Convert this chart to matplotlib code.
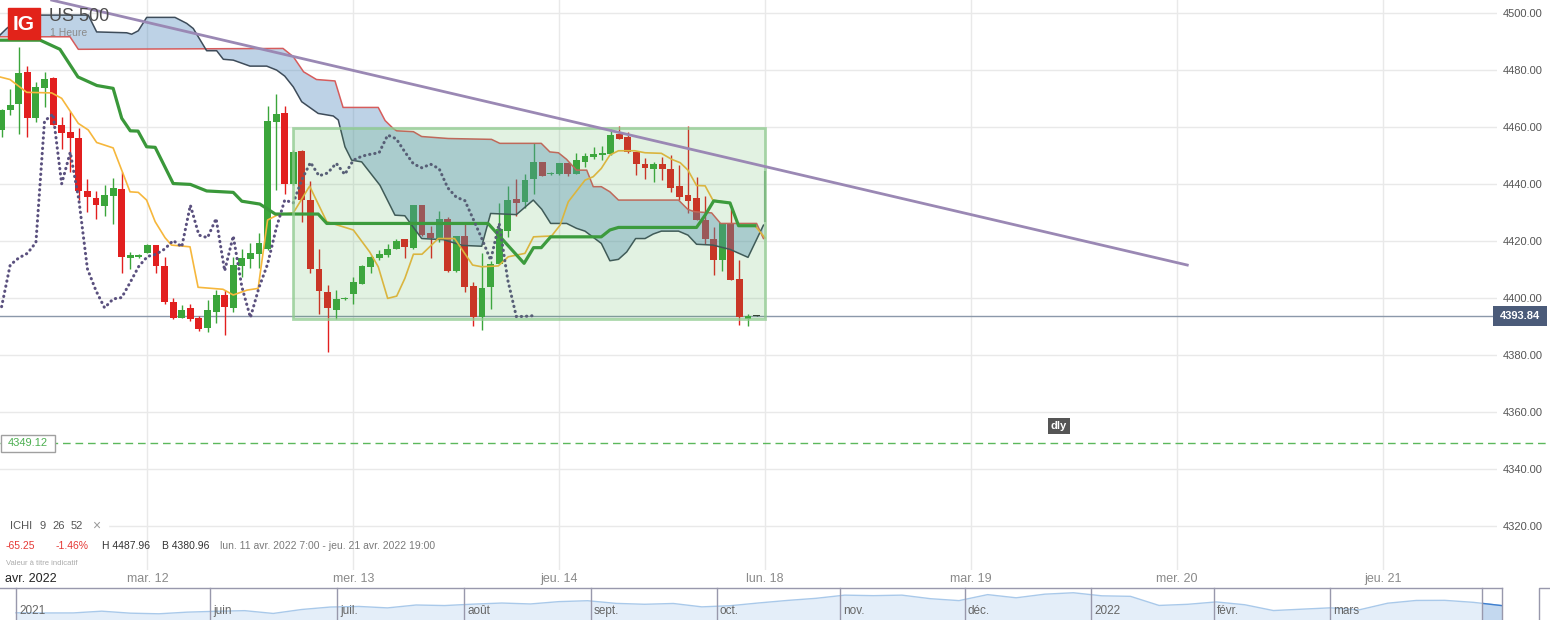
import numpy as np
import matplotlib
matplotlib.use("Agg")
import matplotlib.pyplot as plt
from matplotlib.patches import Rectangle
from matplotlib.transforms import blended_transform_factory

plt.rcParams['font.family'] = ['Liberation Sans', 'DejaVu Sans']

# ==== DATA : US 500, bougies 1 heure depuis lun. 11 avr. 2022 7:00 ====
opens = [4459.09, 4466.0, 4468.1, 4479.3, 4463.3, 4473.8, 4477.2, 4460.7, 4458.2, 4456.1,
         4437.5, 4435.3, 4432.4, 4435.9, 4438.2, 4414.2, 4414.5, 4415.9, 4418.6, 4411.2,
         4398.6, 4393.1, 4396.6, 4392.9, 4389.4, 4395.2, 4401.1, 4396.7, 4411.3, 4413.7,
         4415.4, 4417.4, 4461.9, 4464.9, 4440.1, 4451.6, 4434.4, 4410.2, 4402.1, 4396.0,
         4399.8, 4401.5, 4405.1, 4410.8, 4414.1, 4415.1, 4417.4, 4420.6, 4417.7, 4432.6,
         4422.7, 4420.9, 4427.6, 4409.6, 4421.8, 4404.2, 4393.5, 4404.0, 4411.9, 4423.6,
         4434.7, 4433.8, 4441.8, 4447.6, 4443.4, 4443.4, 4447.3, 4443.7, 4447.8, 4449.6,
         4450.3, 4450.4, 4457.5, 4456.4, 4451.3, 4447.2, 4445.4, 4447.2, 4445.3, 4439.3,
         4436.1, 4435.1, 4427.4, 4420.7, 4413.3, 4426.2, 4406.7, 4392.7, 4393.84]
highs = [4466.3, 4473.3, 4487.96, 4481.4, 4475.8, 4479.3, 4477.6, 4463.5, 4465.7, 4459.7,
         4441.7, 4437.5, 4439.7, 4442.1, 4444.2, 4416.1, 4415.4, 4419.0, 4418.7, 4414.4,
         4400.1, 4397.5, 4397.9, 4393.7, 4399.3, 4403.0, 4402.8, 4414.5, 4417.4, 4419.2,
         4422.9, 4467.4, 4471.6, 4467.4, 4451.8, 4451.9, 4441.1, 4417.4, 4404.6, 4402.8,
         4400.3, 4407.5, 4411.5, 4414.7, 4416.9, 4419.0, 4420.6, 4420.7, 4432.7, 4432.7,
         4425.3, 4430.5, 4428.3, 4421.9, 4426.5, 4405.7, 4415.7, 4413.0, 4433.2, 4439.3,
         4441.8, 4443.5, 4454.3, 4447.7, 4444.2, 4447.5, 4447.5, 4451.0, 4450.8, 4452.9,
         4453.3, 4459.2, 4460.3, 4458.2, 4451.4, 4449.0, 4447.6, 4449.4, 4450.1, 4446.7,
         4460.3, 4442.5, 4435.8, 4424.8, 4426.3, 4431.2, 4413.3, 4394.4, 4393.9]
lows = [4456.4, 4464.2, 4457.5, 4456.6, 4461.9, 4467.1, 4460.6, 4452.4, 4444.3, 4434.4,
        4430.3, 4427.7, 4428.9, 4426.1, 4408.9, 4410.2, 4414.2, 4415.7, 4408.9, 4397.9,
        4392.5, 4392.9, 4391.9, 4388.5, 4388.2, 4391.3, 4387.0, 4395.2, 4407.3, 4410.4,
        4410.4, 4416.8, 4437.9, 4436.6, 4439.8, 4426.8, 4408.7, 4394.6, 4380.96, 4392.5,
        4399.3, 4398.1, 4405.0, 4408.9, 4413.3, 4414.5, 4417.1, 4414.1, 4417.4, 4421.7,
        4414.1, 4419.8, 4409.2, 4409.0, 4402.2, 4390.3, 4388.8, 4396.1, 4411.8, 4421.5,
        4428.8, 4431.5, 4436.7, 4442.9, 4443.1, 4443.2, 4443.0, 4443.5, 4446.1, 4448.8,
        4448.4, 4450.1, 4455.9, 4451.0, 4443.2, 4441.8, 4440.8, 4441.4, 4437.3, 4434.6,
        4430.0, 4427.3, 4419.0, 4408.1, 4409.5, 4406.2, 4390.5, 4390.3, 4393.8]
closes = [4466.0, 4467.7, 4479.1, 4463.3, 4474.0, 4476.9, 4460.8, 4458.0, 4456.2, 4437.7,
          4435.6, 4432.7, 4436.1, 4438.6, 4414.5, 4415.1, 4415.1, 4418.6, 4411.2, 4398.7,
          4393.1, 4396.0, 4392.5, 4389.0, 4395.8, 4401.1, 4397.0, 4411.6, 4414.1, 4415.7,
          4419.5, 4462.1, 4464.6, 4440.1, 4451.2, 4434.6, 4410.3, 4402.6, 4396.6, 4399.7,
          4400.2, 4405.6, 4411.2, 4414.6, 4415.4, 4417.2, 4420.2, 4418.0, 4432.6, 4422.1,
          4421.2, 4427.9, 4409.6, 4421.8, 4404.0, 4393.2, 4403.7, 4411.9, 4424.4, 4434.4,
          4433.4, 4441.6, 4447.6, 4442.9, 4443.9, 4447.3, 4443.4, 4448.4, 4449.8, 4450.5,
          4451.0, 4457.2, 4455.9, 4451.3, 4447.1, 4445.7, 4447.0, 4445.4, 4438.7, 4435.4,
          4434.2, 4427.5, 4420.7, 4413.3, 4426.2, 4406.3, 4393.5, 4393.6, 4393.84]

# ichimoku lines, read as (bar index, price) vertices
tenkan = [(-0.19, 4477.6), (0.98, 4476.7), (2.93, 4472.2), (5.84, 4472.0), (7.0, 4470.1),
          (8.94, 4461.3), (10.1, 4459.0), (11.08, 4454.6), (13.0, 4452.7), (14.97, 4437.3),
          (15.93, 4437.1), (16.9, 4434.4), (17.9, 4426.8), (19.05, 4421.2), (19.8, 4418.6),
          (21.96, 4418.0), (22.9, 4403.8), (25.8, 4403.1), (27.0, 4401.1), (28.6, 4402.8),
          (29.9, 4403.4), (31.0, 4427.4), (32.1, 4429.1), (34.0, 4429.9), (35.9, 4439.3),
          (37.9, 4426.8), (41.0, 4423.9), (42.9, 4416.2), (43.9, 4411.0), (45.0, 4399.9),
          (46.05, 4400.7), (47.0, 4406.9), (48.0, 4415.4), (49.0, 4415.4), (50.9, 4420.9),
          (52.8, 4420.9), (54.9, 4411.6), (55.95, 4411.0), (57.9, 4411.3), (59.05, 4414.5),
          (61.0, 4415.7), (62.0, 4421.5), (64.1, 4421.8), (65.1, 4425.6), (66.05, 4433.8),
          (68.0, 4441.4), (68.96, 4442.6), (69.9, 4445.5), (70.9, 4450.2), (71.9, 4451.7),
          (73.8, 4451.7), (75.0, 4451.0), (76.9, 4450.8), (78.1, 4448.7), (79.1, 4447.5),
          (80.0, 4444.9), (81.0, 4439.5), (82.0, 4439.4), (82.9, 4434.4), (84.9, 4433.4),
          (85.9, 4425.4), (87.8, 4425.4), (89.0, 4421.1)]
kijun = [(-0.2, 4490.5), (4.5, 4490.5), (6.8, 4487.3), (8.9, 4477.6), (11.1, 4474.6),
         (13.0, 4473.6), (14.0, 4463.1), (15.0, 4458.7), (15.9, 4458.6), (16.9, 4453.1),
         (17.9, 4452.9), (20.0, 4440.2), (22.0, 4439.9), (23.9, 4437.6), (27.0, 4437.1),
         (28.0, 4434.0), (30.1, 4433.0), (31.9, 4429.5), (36.9, 4429.5), (37.9, 4426.2),
         (56.7, 4426.2), (60.9, 4412.2), (62.0, 4417.7), (62.9, 4417.7), (64.0, 4421.5),
         (69.9, 4421.5), (70.9, 4423.9), (71.9, 4424.8), (81.0, 4424.8), (82.0, 4429.1),
         (83.0, 4434.1), (84.9, 4433.4), (85.9, 4425.4), (87.8, 4425.4)]
senkou_a = [(-0.19, 4491.7), (7.97, 4491.7), (8.94, 4487.3), (32.8, 4487.6), (34.0, 4484.7),
            (35.2, 4479.4), (36.7, 4476.7), (38.86, 4476.2), (39.8, 4466.9), (43.9, 4466.9),
            (44.7, 4462.3), (45.65, 4459.5), (46.05, 4458.7), (48.0, 4458.4), (48.96, 4456.7),
            (52.06, 4456.0), (57.1, 4455.7), (58.07, 4454.3), (62.9, 4454.3), (63.9, 4451.3),
            (64.9, 4451.0), (65.85, 4448.7), (67.0, 4444.9), (68.2, 4444.9), (68.96, 4439.1),
            (69.9, 4439.1), (70.9, 4437.3), (71.9, 4434.4), (78.9, 4434.4), (80.0, 4431.1),
            (80.8, 4430.3), (82.76, 4429.9), (83.8, 4426.2), (88.0, 4426.2), (88.8, 4420.9)]
senkou_b = [(-0.19, 4492.3), (0.59, 4494.6), (1.36, 4496.4), (2.14, 4497.9), (4.48, 4499.3),
            (10.1, 4499.3), (11.08, 4493.4), (14.58, 4493.1), (15.16, 4492.6), (15.93, 4493.8),
            (16.91, 4498.5), (20.21, 4498.5), (21.57, 4496.4), (22.34, 4494.6), (23.9, 4486.8),
            (25.07, 4486.8), (25.84, 4483.8), (27.0, 4483.5), (28.95, 4481.4), (30.9, 4481.4),
            (32.06, 4480.0), (33.0, 4477.9), (34.0, 4474.1), (34.98, 4468.9), (36.9, 4464.8),
            (38.66, 4463.9), (39.24, 4462.5), (40.02, 4453.1), (40.8, 4448.4), (41.97, 4447.8),
            (44.1, 4439.6), (45.85, 4429.1), (47.0, 4428.9), (48.96, 4420.9), (51.5, 4420.5),
            (53.7, 4418.5), (55.96, 4418.2), (57.0, 4429.7), (60.0, 4429.3), (61.97, 4434.4),
            (62.95, 4431.2), (64.0, 4426.2), (65.86, 4426.2), (67.0, 4424.5), (68.0, 4423.5),
            (69.9, 4419.2), (70.9, 4413.1), (71.9, 4413.6), (72.86, 4416.2), (73.9, 4420.9),
            (75.0, 4420.9), (75.96, 4422.5), (76.9, 4423.5), (78.9, 4423.5), (80.0, 4422.1),
            (81.0, 4418.9), (82.9, 4418.6), (84.9, 4417.1), (87.0, 4414.3), (88.8, 4425.6)]
chikou_shift = 26
last_tick = (89, 4426.6, 4444.6)

trend_line = [(5.84, 4504.56), (138.2, 4411.6)]
box_zone = (34.0, 89.0, 4392.6, 4459.8)      # x0, x1, bas, haut
level_dly = 4349.12
last_price = 4393.84

day_pos = [17, 41, 65, 89, 113, 137, 161]
day_labels = ['mar. 12', 'mer. 13', 'jeu. 14', 'lun. 18', 'mar. 19', 'mer. 20', 'jeu. 21']
y_ticks = list(range(4320, 4501, 20))

# navigateur (avr. 2021 -> avr. 2022)
nav_vals = [4185, 4180, 4181, 4232, 4174, 4156, 4204, 4229, 4247, 4166, 4281, 4352, 4369,
            4327, 4411, 4395, 4436, 4468, 4441, 4509, 4535, 4458, 4432, 4455, 4357, 4391,
            4471, 4544, 4605, 4697, 4682, 4697, 4594, 4538, 4712, 4620, 4725, 4766, 4677,
            4662, 4398, 4431, 4500, 4418, 4250, 4290, 4329, 4270, 4463, 4543, 4546, 4488, 4393]
nav_months = ['2021', 'juin', 'juil.', 'août', 'sept.', 'oct.', 'nov.', 'déc.', '2022', 'févr.', 'mars']
nav_month_px = [16, 210, 337, 464, 591, 717, 840, 965, 1091, 1214, 1330]

# ==== COLOURS ====
UP, DOWN, FLAT = '#3ba53b', '#e21f1f', '#333333'
GRID = '#e9e9e9'

# ==== FIGURE ====
W, H = 1550, 620
fig = plt.figure(figsize=(W / 100, H / 100), dpi=100, facecolor='white')
ax = fig.add_axes([0, 50 / H, 1497 / W, 570 / H])
ax.set_xlim(-0.187, 174.3)
ax.set_ylim(4304.6, 4504.6)
for s in ax.spines.values():
    s.set_visible(False)
ax.grid(True, color=GRID, lw=1)
ax.set_axisbelow(True)

ax.yaxis.tick_right()
ax.set_yticks(y_ticks)
ax.set_yticklabels([f'{v:.2f}' for v in y_ticks])
ax.tick_params(axis='y', length=0, pad=3.8, labelsize=8, labelcolor='#555555')
ax.set_xticks(day_pos)
ax.set_xticklabels(day_labels)
ax.tick_params(axis='x', length=0, pad=2, labelsize=9, labelcolor='#8a8a8a')

trans = blended_transform_factory(ax.transAxes, ax.transData)

# price line + dly level
ax.plot([0, 0.9973], [last_price, last_price], transform=trans, color='#8b98aa', lw=1, zorder=1.5)
ax.plot([0, 1.04], [level_dly, level_dly], transform=trans, color='#5cb85c', lw=1,
        dashes=(5.5, 3.5), clip_on=False, zorder=1.5)

# candles
o, h, l, c = map(np.array, (opens, highs, lows, closes))
idx = np.arange(len(c))
col = np.where(c > o, UP, np.where(c < o, DOWN, FLAT))
ax.vlines(idx, l, h, colors=col, lw=1, zorder=2)
ax.bar(idx, np.maximum(np.abs(c - o), 0.35), bottom=np.minimum(o, c), width=0.8,
       color=col, lw=0, zorder=2)
ax.vlines(last_tick[0], last_tick[1], last_tick[2], color='#5d8f6a', lw=1.5, zorder=2)

# kumo
sa = np.array(senkou_a)
sb = np.array(senkou_b)
ax.fill(np.concatenate([sa[:, 0], sb[::-1, 0]]), np.concatenate([sa[:, 1], sb[::-1, 1]]),
        color='#528bbe', alpha=0.38, lw=0, zorder=3)
ax.plot(sa[:, 0], sa[:, 1], color='#d65c5c', lw=1.1, zorder=3.5)
ax.plot(sb[:, 0], sb[:, 1], color='#3e4c5a', lw=1.1, zorder=3.5)

tk = np.array(tenkan)
kj = np.array(kijun)
ax.plot(tk[:, 0], tk[:, 1], color='#f6b73c', lw=1.2, zorder=4)
ax.plot(kj[:, 0], kj[:, 1], color='#3a983a', lw=2.3, zorder=4)
ax.plot(idx[chikou_shift:] - chikou_shift, c[chikou_shift:], color='#5a507e', lw=2.2,
        linestyle=(0, (0.1, 1.6)), dash_capstyle='round', zorder=4)

# zone rectangle
x0, x1, yb, yt = box_zone
ax.add_patch(Rectangle((x0, yb), x1 - x0, yt - yb, fc='#4caf50', alpha=0.16, lw=0, zorder=5))
ax.add_patch(Rectangle((x0, yb), x1 - x0, yt - yb, fill=False, ec='#8fcb8f', lw=2,
                       alpha=0.75, zorder=5))

# trend line
tl = np.array(trend_line)
ax.plot(tl[:, 0], tl[:, 1], color='#9a88b4', lw=2, zorder=6)

# price tags
ax.add_patch(Rectangle((0.99733, last_price - 3.5), 0.0361, 7.0, transform=trans,
                       fc='#4b5b79', ec='none', clip_on=False, zorder=9))
ax.text(1.0153, last_price, f'{last_price:.2f}', transform=trans, ha='center', va='center',
        color='white', fontweight='bold', fontsize=8, clip_on=False, zorder=10)
ax.add_patch(Rectangle((0.0004, level_dly - 3.0), 0.0364, 6.0, transform=trans,
                       fc='white', ec='#a0a0a0', lw=1, clip_on=False, zorder=9))
ax.text(0.0184, level_dly, f'{level_dly:.2f}', transform=trans, ha='center', va='center',
        color='#4caf50', fontsize=8, clip_on=False, zorder=10)

# ==== NAVIGATOR (series) ====
nav = fig.add_axes([0, 0, 1, 32 / H])
nav.set_zorder(2)
nav.set_xlim(0, W)
nav.set_ylim(3976, 4904)
nav.axis('off')
nx = np.linspace(16, 1502, len(nav_vals))
nav.fill_between(nx, nav_vals, 3976, color='#e4eef9', lw=0)
nav.plot(nx, nav_vals, color='#a9c9ea', lw=1)
sel = nav.fill_between(nx[-2:], nav_vals[-2:], 3976, color='#c3d8ef', lw=0)
sel_line, = nav.plot(nx[-2:], nav_vals[-2:], color='#3f7fcf', lw=1)
clip = Rectangle((1482, 3976), 20, 928, transform=nav.transData)
sel.set_clip_path(clip)
sel_line.set_clip_path(clip)

# ==== OVERLAY (pixel coordinates) ====
ov = fig.add_axes([0, 0, 1, 1])
ov.set_zorder(3)
ov.set_xlim(0, W)
ov.set_ylim(H, 0)
ov.axis('off')

ov.add_patch(Rectangle((8, 8), 32, 31, color='#e2231a'))
ov.text(24, 24, 'IG', color='white', fontsize=15, fontweight='bold', ha='center', va='center')
ov.text(49, 16.5, 'US 500', color='#4d4d4d', fontsize=13, va='center')
ov.text(50, 33.5, '1 Heure', color='#8a8a8a', fontsize=7.5, va='center')

ov.text(1059, 426, 'dly', color='white', fontsize=8, fontweight='bold', ha='center', va='center',
        bbox=dict(boxstyle='square,pad=0.25', fc='#555555', ec='none'))

ov.add_patch(Rectangle((0, 518), 108, 16, color='white'))
for x, s in [(10, 'ICHI'), (39, '9'), (52, '26'), (71, '52')]:
    ov.text(x, 526, s, color='#555555', fontsize=8, va='center')
ov.text(92, 525.5, '×', color='#9a9a9a', fontsize=10, va='center')

chg = closes[-1] - opens[0]
pct = chg / opens[0] * 100
ov.text(5.5, 546, f'{chg:.2f}', color='#e53935', fontsize=7.5, va='center')
ov.text(56, 546, f'{pct:.2f}%', color='#e53935', fontsize=7.5, va='center')
ov.text(102, 546, f'H {max(highs):.2f}', color='#333333', fontsize=7.5, va='center')
ov.text(162, 546, f'B {min(lows):.2f}', color='#333333', fontsize=7.5, va='center')
ov.text(220, 546, 'lun. 11 avr. 2022 7:00 - jeu. 21 avr. 2022 19:00', color='#7a7a7a',
        fontsize=7.5, va='center')
ov.text(5.5, 563.5, 'Valeur à titre indicatif', color='#ababab', fontsize=5.5, va='center')
ov.text(5, 578.5, 'avr. 2022', color='#222222', fontsize=9, va='center')

# navigator frame and month labels
ov.plot([0, 1502], [588, 588], color='#9898ac', lw=1)
for xm, name in zip(nav_month_px, nav_months):
    ov.plot([xm, xm], [588, 620], color='#9898ac', lw=1)
    ov.text(xm + 3, 611, name, color='#666666', fontsize=8.5, va='center')
for xm in (1482, 1502):
    ov.plot([xm, xm], [588, 620], color='#9898ac', lw=1)
ov.plot([1539, 1539, 1550], [620, 588, 588], color='#9898ac', lw=1)

fig.savefig('out.png', dpi=100, facecolor='white')
